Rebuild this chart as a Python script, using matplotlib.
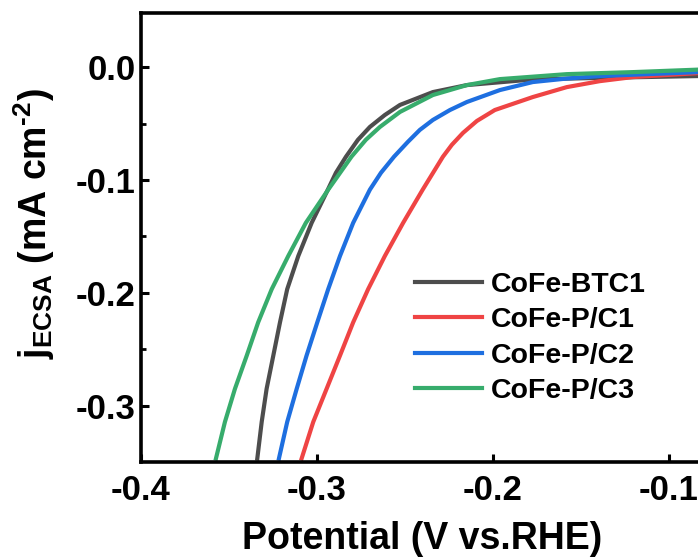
import matplotlib
matplotlib.use("Agg")
import matplotlib.pyplot as plt

# LSV curves, current normalised by ECSA
bt_x = [-0.3339, -0.3314, -0.3286, -0.3248, -0.3210, -0.3169, -0.3106, -0.3030,
        -0.2938, -0.2892, -0.2835, -0.2767, -0.2699, -0.2614, -0.2528, -0.2341,
        -0.2148, -0.1773, -0.1392, -0.0835, -0.0801]
bt_y = [-0.3469, -0.3145, -0.2851, -0.2557, -0.2262, -0.1968, -0.1674, -0.1380,
        -0.1086, -0.0936, -0.0794, -0.0644, -0.0530, -0.0424, -0.0335, -0.0221,
        -0.0159, -0.0109, -0.0095, -0.0079, -0.0079]

c1_x = [-0.3087, -0.3021, -0.2945, -0.2869, -0.2794, -0.2709, -0.2614, -0.2510,
        -0.2399, -0.2284, -0.2233, -0.2170, -0.2091, -0.1989, -0.1773, -0.1580,
        -0.1392, -0.1205, -0.0835, -0.0801]
c1_y = [-0.3469, -0.3145, -0.2851, -0.2557, -0.2262, -0.1968, -0.1674, -0.1380,
        -0.1086, -0.0794, -0.0688, -0.0583, -0.0477, -0.0380, -0.0265, -0.0177,
        -0.0124, -0.0088, -0.0053, -0.0051]

c2_x = [-0.3216, -0.3169, -0.3115, -0.3059, -0.2998, -0.2936, -0.2869, -0.2794,
        -0.2699, -0.2636, -0.2562, -0.2483, -0.2415, -0.2341, -0.2244, -0.2148,
        -0.1960, -0.1773, -0.1580, -0.1392, -0.0835, -0.0801]
c2_y = [-0.3469, -0.3145, -0.2851, -0.2557, -0.2262, -0.1968, -0.1674, -0.1380,
        -0.1086, -0.0936, -0.0794, -0.0662, -0.0556, -0.0468, -0.0380, -0.0309,
        -0.0203, -0.0132, -0.0101, -0.0079, -0.0044, -0.0042]

c3_x = [-0.3574, -0.3523, -0.3466, -0.3399, -0.3334, -0.3257, -0.3163, -0.3063,
        -0.2936, -0.2803, -0.2722, -0.2642, -0.2528, -0.2341, -0.2148, -0.1960,
        -0.1580, -0.1205, -0.0835, -0.0801]
c3_y = [-0.3469, -0.3145, -0.2851, -0.2557, -0.2262, -0.1968, -0.1674, -0.1380,
        -0.1086, -0.0792, -0.0644, -0.0530, -0.0397, -0.0247, -0.0159, -0.0106,
        -0.0062, -0.0044, -0.0022, -0.0020]

labels = ["CoFe-BTC1", "CoFe-P/C1", "CoFe-P/C2", "CoFe-P/C3"]
colors = ["#4D4D4D", "#EF4444", "#1E6FE0", "#37AC6C"]

plt.rcParams.update({
    "font.family": "Liberation Sans",
    "font.weight": "bold",
    "mathtext.fontset": "custom",
    "mathtext.rm": "Liberation Sans:bold",
    "mathtext.bf": "Liberation Sans:bold",
    "mathtext.it": "Liberation Sans:bold",
})

W, H = 698, 559
fig = plt.figure(figsize=(W / 100, H / 100), dpi=100)
# right spine sits just past the cropped edge of the original
ax = fig.add_axes([141 / W, (H - 462) / H, (704 - 141) / W, (462 - 13) / H])

series = [(bt_x, bt_y), (c1_x, c1_y), (c2_x, c2_y), (c3_x, c3_y)]
for (xs, ys), lab, col in zip(series, labels, colors):
    ax.plot(xs, ys, color=col, lw=3.0, label=lab, solid_joinstyle="round")

ax.set_xlim(-0.4, -0.08)
ax.set_ylim(-0.35, 0.048)
ax.set_xticks([-0.4, -0.3, -0.2, -0.1])
ax.set_xticklabels(["-0.4", "-0.3", "-0.2", "-0.1"])
ax.set_yticks([0.0, -0.1, -0.2, -0.3])
ax.set_yticklabels(["0.0", "-0.1", "-0.2", "-0.3"])
ax.set_yticks([-0.05, -0.15, -0.25], minor=True)

for s in ax.spines.values():
    s.set_linewidth(2.6)
ax.tick_params(axis="both", which="major", direction="in", length=5.5,
               width=2.2, labelsize=25)
ax.tick_params(axis="x", which="major", pad=9)
ax.tick_params(axis="y", which="major", pad=4)
ax.tick_params(axis="y", which="minor", direction="in", length=3.5, width=2.0)
ax.tick_params(top=False, right=False)

ax.set_xlabel("Potential (V vs.RHE)", fontsize=27, fontweight="bold", labelpad=10)
ax.set_ylabel(r"j$_{\mathbf{ECSA}}$ (mA cm$^{\text{-2}}$)", fontsize=27,
              fontweight="bold")
ax.yaxis.set_label_coords(-0.15, 0.53)

leg = ax.legend(loc="upper left", bbox_to_anchor=(415 / W, 1 - 272 / H),
                bbox_transform=fig.transFigure, frameon=False, fontsize=20.5,
                handlelength=2.35, handletextpad=0.3, labelspacing=0.33,
                borderpad=0, borderaxespad=0)
for t in leg.get_texts():
    t.set_fontweight("bold")

fig.savefig("out.png", dpi=100)
